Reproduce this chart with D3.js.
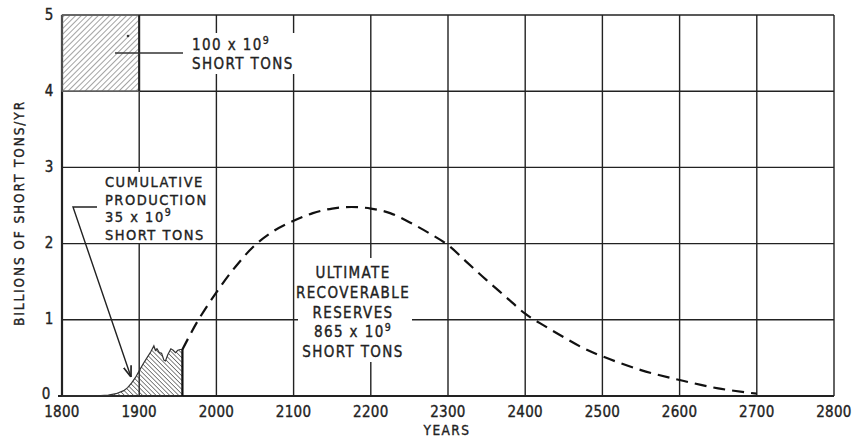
<!DOCTYPE html>
<html>
<head>
<meta charset="utf-8">
<title>Coal production</title>
<script src="https://d3js.org/d3.v7.min.js"></script>
<style>
  body { margin: 0; background: #fff; }
  text { font-family: "DejaVu Sans Condensed", "DejaVu Sans", sans-serif; fill: #222; stroke: #222; stroke-width: 0.35px; }
</style>
</head>
<body>
<svg id="chart" width="855" height="439"></svg>
<script>
// past production (billions of short tons / yr)
var prodYears  = [1800, 1830, 1850, 1860, 1870, 1880, 1885, 1890, 1895, 1900, 1905, 1910, 1915, 1919, 1921, 1923, 1926, 1929, 1932, 1934, 1937, 1941, 1944, 1947, 1950, 1953, 1956];
var prodValues = [0, 0.002, 0.006, 0.012, 0.03, 0.07, 0.11, 0.17, 0.24, 0.33, 0.42, 0.5, 0.58, 0.66, 0.6, 0.62, 0.57, 0.56, 0.47, 0.46, 0.54, 0.62, 0.6, 0.57, 0.6, 0.61, 0.61];

// projected production (dashed)
var projYears  = [1956, 1975, 2000, 2025, 2050, 2075, 2100, 2125, 2150, 2175, 2200, 2225, 2250, 2275, 2300, 2325, 2350, 2375, 2400, 2425, 2450, 2475, 2500, 2550, 2600, 2650, 2700];
var projValues = [0.61, 0.97, 1.36, 1.7, 1.98, 2.17, 2.3, 2.4, 2.46, 2.48, 2.46, 2.4, 2.28, 2.14, 1.98, 1.75, 1.52, 1.3, 1.08, 0.92, 0.77, 0.63, 0.52, 0.34, 0.21, 0.1, 0.03];

var xTicks = [1800, 1900, 2000, 2100, 2200, 2300, 2400, 2500, 2600, 2700, 2800];
var yTicks = [0, 1, 2, 3, 4, 5];

var svg = d3.select("#chart");
var margin = {left: 62, top: 15, right: 21, bottom: 43};
var W = 855, H = 439;

var x = d3.scaleLinear().domain([1800, 2800]).range([margin.left, W - margin.right]);
var y = d3.scaleLinear().domain([0, 5]).range([H - margin.bottom, margin.top]);

var defs = svg.append("defs");
defs.append("pattern").attr("id", "hatchA").attr("patternUnits", "userSpaceOnUse")
    .attr("width", 4).attr("height", 4).attr("patternTransform", "rotate(45)")
  .append("line").attr("x1", 0).attr("y1", 0).attr("x2", 0).attr("y2", 4)
    .attr("stroke", "#555").attr("stroke-width", 1.1);
defs.append("pattern").attr("id", "hatchB").attr("patternUnits", "userSpaceOnUse")
    .attr("width", 3.2).attr("height", 3.2).attr("patternTransform", "rotate(-45)")
  .append("line").attr("x1", 0).attr("y1", 0).attr("x2", 0).attr("y2", 3.2)
    .attr("stroke", "#333").attr("stroke-width", 1.2);

// grid
var grid = svg.append("g").attr("stroke", "#222").attr("stroke-width", 1.4);
grid.selectAll(".vx").data(xTicks).enter().append("line")
    .attr("x1", d => x(d)).attr("x2", d => x(d))
    .attr("y1", y(5)).attr("y2", y(0));
grid.selectAll(".hy").data(yTicks).enter().append("line")
    .attr("x1", x(1800)).attr("x2", x(2800))
    .attr("y1", d => y(d)).attr("y2", d => y(d));
// heavier frame
svg.append("line").attr("x1", x(1800)).attr("x2", x(1800)).attr("y1", y(5)).attr("y2", y(0))
   .attr("stroke", "#222").attr("stroke-width", 2.2);
svg.append("line").attr("x1", x(1800) - 4).attr("x2", x(2800)).attr("y1", y(0)).attr("y2", y(0))
   .attr("stroke", "#222").attr("stroke-width", 2.2);

// hatched reference square: 100 x 10^9 short tons
svg.append("rect").attr("x", x(1800)).attr("y", y(5))
   .attr("width", x(1900) - x(1800)).attr("height", y(4) - y(5))
   .attr("fill", "url(#hatchA)").attr("stroke", "#777").attr("stroke-width", 1);
svg.append("line").attr("x1", x(1900)).attr("x2", x(1900)).attr("y1", y(5)).attr("y2", y(4))
   .attr("stroke", "#222").attr("stroke-width", 2);

// label backgrounds (breaks in grid)
function blank(x0, y0, x1, y1) {
  svg.append("rect").attr("x", x0).attr("y", y0).attr("width", x1 - x0).attr("height", y1 - y0).attr("fill", "#fff");
}
blank(186, 33, 300, 74);
blank(100, 172, 212, 243);
blank(298, 258, 412, 362);

// past production area
var prod = prodYears.map((d, i) => [d, prodValues[i]]);
var area = d3.area().x(d => x(d[0])).y0(y(0)).y1(d => y(d[1])).curve(d3.curveLinear);
svg.append("path").datum(prod).attr("d", area)
   .attr("fill", "url(#hatchB)").attr("stroke", "#333").attr("stroke-width", 1.2);
svg.append("line").attr("x1", x(1956)).attr("x2", x(1956)).attr("y1", y(0.61)).attr("y2", y(0))
   .attr("stroke", "#111").attr("stroke-width", 2.2);

// projected curve
var proj = projYears.map((d, i) => [d, projValues[i]]);
svg.append("path").datum(proj)
   .attr("d", d3.line().x(d => x(d[0])).y(d => y(d[1])).curve(d3.curveCatmullRom))
   .attr("fill", "none").attr("stroke", "#111").attr("stroke-width", 2.2)
   .attr("stroke-dasharray", "12,7");

// ticks
svg.append("g").selectAll("text").data(xTicks).enter().append("text")
   .attr("x", d => x(d)).attr("y", 412).attr("text-anchor", "middle").attr("dominant-baseline", "middle")
   .style("font-size", "15px").style("letter-spacing", "0.3px").text(d => d);
svg.append("g").selectAll("text").data(yTicks).enter().append("text")
   .attr("x", d => d === 0 ? 46 : 49).attr("y", d => d === 0 ? y(d) - 2 : y(d))
   .attr("text-anchor", "middle").attr("dominant-baseline", "middle")
   .style("font-size", "15px").text(d => d);

svg.append("text").attr("x", 447).attr("y", 431).attr("text-anchor", "middle")
   .attr("dominant-baseline", "middle").style("font-size", "13.5px").style("letter-spacing", "1.5px").text("YEARS");
svg.append("text").attr("transform", "translate(20," + 213 + ") rotate(-90)")
   .attr("text-anchor", "middle").attr("dominant-baseline", "middle")
   .style("font-size", "13.5px").style("letter-spacing", "1.9px").text("BILLIONS OF SHORT TONS/YR");

// annotation text
function label(lines, cx, y0, dy, anchor, size, ls) {
  var t = svg.append("text").attr("text-anchor", anchor).style("font-size", size + "px").style("letter-spacing", ls + "px");
  lines.forEach(function (l, i) {
    var ts = t.append("tspan").attr("x", cx).attr("y", y0 + i * dy);
    if (l.sup) {
      ts.text(l.text);
      ts.append("tspan").attr("dy", -6).style("font-size", "10.5px").text(l.sup);
    } else ts.text(l.text);
  });
}
label([{text: "100 x 10", sup: "9"}, {text: "SHORT TONS"}], 192, 50, 19, "start", 15, 1.4);
label([{text: "CUMULATIVE"}, {text: "PRODUCTION"}, {text: "35 x 10", sup: "9"}, {text: "SHORT TONS"}], 105, 187, 17.7, "start", 14.5, 1.5);
label([{text: "ULTIMATE"}, {text: "RECOVERABLE"}, {text: "RESERVES"}, {text: "865 x 10", sup: "9"}, {text: "SHORT TONS"}], 353, 278, 19.8, "middle", 15, 1.4);

// leader lines
svg.append("line").attr("x1", 115).attr("x2", 183).attr("y1", 53).attr("y2", 53)
   .attr("stroke", "#333").attr("stroke-width", 1.3);
svg.append("circle").attr("cx", 128).attr("cy", 36).attr("r", 1.3).attr("fill", "#333");

defs.append("marker").attr("id", "arr").attr("viewBox", "0 0 10 10").attr("refX", 10).attr("refY", 5)
   .attr("markerWidth", 8).attr("markerHeight", 8).attr("orient", "auto")
  .append("path").attr("d", "M0,1.5 L10,5 L0,8.5").attr("fill", "none").attr("stroke", "#222").attr("stroke-width", 1.5);
svg.append("polyline").attr("points", [[97, 207], [73, 207], [131, 377]].join(" "))
   .attr("fill", "none").attr("stroke", "#222").attr("stroke-width", 1.4).attr("marker-end", "url(#arr)");
</script>
</body>
</html>
